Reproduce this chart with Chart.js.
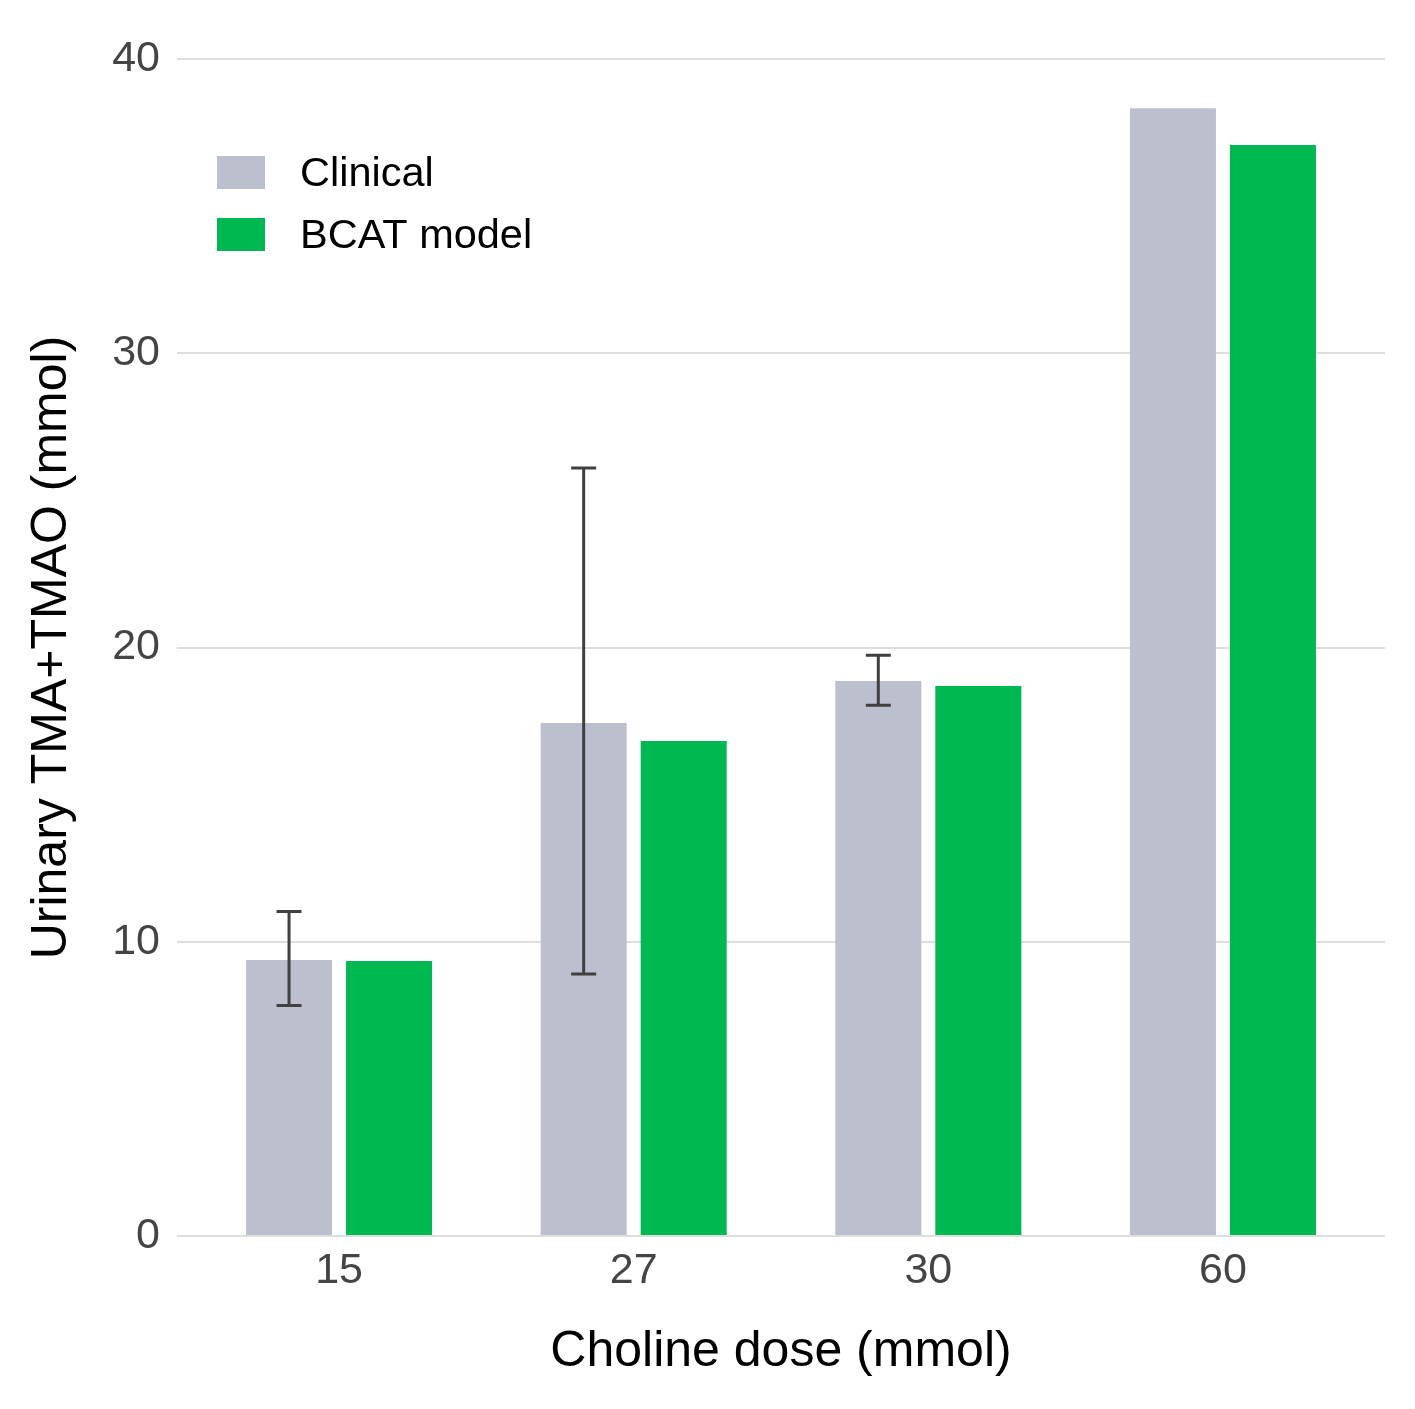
<!DOCTYPE html>
<html>
<head>
<meta charset="utf-8">
<script src="https://cdn.jsdelivr.net/npm/chart.js@4/dist/chart.umd.min.js"></script>
<style>
  html, body { margin: 0; padding: 0; background: #ffffff; }
  #wrap { width: 1415px; height: 1409px; }
</style>
</head>
<body>
<div id="wrap"><canvas id="grafica"></canvas></div>
<script>
// datos
const doses = ["15", "27", "30", "60"];
const clinical = [9.38, 17.43, 18.86, 38.33];
const bcat = [9.35, 16.82, 18.69, 37.08];
const errLow = [7.83, 8.9, 18.04, null];
const errHigh = [11.03, 26.1, 19.74, null];
const yTicks = [0, 10, 20, 30, 40];

const seriesNames = ["Clinical", "BCAT model"];
const seriesColors = ["#bcbfcd", "#00b851"];

const fontName = "'Liberation Sans', Arial, sans-serif";

// barras de error sobre la serie clinica
const errorBars = {
    id: "errorBars",
    afterDatasetsDraw(chart) {
        const ctx = chart.ctx;
        const y = chart.scales.y;
        const meta = chart.getDatasetMeta(0);
        ctx.save();
        ctx.strokeStyle = "#404040";
        ctx.lineWidth = 3;
        meta.data.forEach((bar, i) => {
            if (errLow[i] == null) return;
            const yl = y.getPixelForValue(errLow[i]);
            const yh = y.getPixelForValue(errHigh[i]);
            ctx.beginPath();
            ctx.moveTo(bar.x, yl);
            ctx.lineTo(bar.x, yh);
            ctx.moveTo(bar.x - 12.5, yl);
            ctx.lineTo(bar.x + 12.5, yl);
            ctx.moveTo(bar.x - 12.5, yh);
            ctx.lineTo(bar.x + 12.5, yh);
            ctx.stroke();
        });
        ctx.restore();
    }
};

// leyenda dentro del area
const innerLegend = {
    id: "innerLegend",
    afterDraw(chart) {
        const ctx = chart.ctx;
        ctx.save();
        ctx.font = "41.5px " + fontName;
        ctx.textBaseline = "middle";
        chart.data.datasets.forEach((ds, i) => {
            const top = 156 + i * 62;
            ctx.fillStyle = ds.backgroundColor;
            ctx.fillRect(217, top, 48, 33);
            ctx.fillStyle = "#000000";
            ctx.fillText(ds.label, 300, top + 19);
        });
        ctx.restore();
    }
};

const ctx = document.getElementById("grafica");

new Chart(ctx, {

    type: "bar",

    data: {
        datasets: [
            {
                label: seriesNames[0],
                data: clinical.map((v, i) => ({ x: i, y: v })),
                backgroundColor: seriesColors[0]
            },
            {
                label: seriesNames[1],
                data: bcat.map((v, i) => ({ x: i, y: v })),
                backgroundColor: seriesColors[1]
            }
        ]
    },

    options: {
        responsive: true,
        maintainAspectRatio: false,
        animation: false,
        categoryPercentage: 0.679,
        barPercentage: 0.86,
        layout: {
            padding: { top: 59, right: 30, bottom: 0, left: 0 }
        },
        plugins: {
            legend: { display: false },
            tooltip: { enabled: false }
        },
        scales: {
            x: {
                type: "linear",
                offset: false,
                min: -0.55,
                max: 3.55,
                afterBuildTicks(scale) {
                    scale.ticks = doses.map((d, i) => ({ value: i }));
                },
                afterFit(scale) {
                    scale.height = 173;
                },
                grid: { display: false, offset: false },
                border: { display: false },
                ticks: {
                    callback: (v) => doses[v],
                    color: "#444444",
                    font: { family: fontName, size: 43 },
                    padding: 1,
                    maxRotation: 0
                },
                title: {
                    display: true,
                    text: "Choline dose (mmol)",
                    color: "#000000",
                    font: { family: fontName, size: 50 },
                    padding: { top: 0, bottom: 27 }
                }
            },
            y: {
                min: 0,
                max: 40,
                afterBuildTicks(scale) {
                    scale.ticks = yTicks.map(v => ({ value: v }));
                },
                afterFit(scale) {
                    scale.width = 177;
                },
                grid: {
                    color: "#dedede",
                    lineWidth: 2,
                    drawTicks: false
                },
                border: { display: false },
                ticks: {
                    color: "#444444",
                    font: { family: fontName, size: 43 },
                    padding: 17
                },
                title: {
                    display: true,
                    text: "Urinary TMA+TMAO (mmol)",
                    color: "#000000",
                    font: { family: fontName, size: 50 },
                    padding: { top: 22, bottom: 0 }
                }
            }
        }
    },

    plugins: [errorBars, innerLegend]
});
</script>
</body>
</html>
